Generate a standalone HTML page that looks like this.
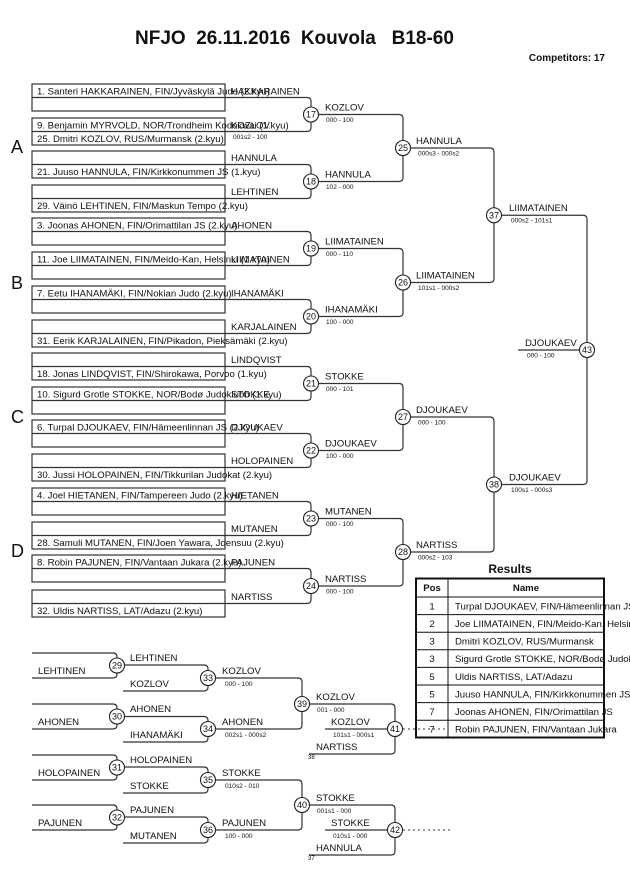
<!DOCTYPE html>
<html><head><meta charset="utf-8"><style>
html,body{margin:0;padding:0;background:#fff}
svg{display:block}
text{font-family:"Liberation Sans",Arial,sans-serif;fill:#111}
.n{font-size:9.6px}
.l{font-size:9.6px}
.s{font-size:6.5px}
.c{font-size:9px}
.t{font-size:6px}
</style></head><body>
<svg width="630" height="891" viewBox="0 0 630 891" xmlns="http://www.w3.org/2000/svg">
<text x="135" y="44" font-size="19" font-weight="bold" xml:space="preserve">NFJO  26.11.2016  Kouvola   B18-60</text>
<text x="605" y="61" font-size="10" font-weight="bold" text-anchor="end">Competitors: 17</text>

<g font-size="18"><text x="11" y="153" font-size="18">A</text><text x="11" y="289" font-size="18">B</text><text x="11" y="423" font-size="18">C</text><text x="11" y="557" font-size="18">D</text></g>

<!-- boxes -->
<g fill="none" stroke="#333" stroke-width="1.2">
<rect x="32" y="84" width="193" height="27"/><line x1="32" y1="97.5" x2="225" y2="97.5"/>
<rect x="32" y="118" width="193" height="27"/><line x1="32" y1="131.5" x2="225" y2="131.5"/>
<rect x="32" y="151" width="193" height="27"/><line x1="32" y1="164.5" x2="225" y2="164.5"/>
<rect x="32" y="185" width="193" height="27"/><line x1="32" y1="198.5" x2="225" y2="198.5"/>
<rect x="32" y="218" width="193" height="27"/><line x1="32" y1="231.5" x2="225" y2="231.5"/>
<rect x="32" y="252" width="193" height="27"/><line x1="32" y1="265.5" x2="225" y2="265.5"/>
<rect x="32" y="286" width="193" height="27"/><line x1="32" y1="299.5" x2="225" y2="299.5"/>
<rect x="32" y="320" width="193" height="27"/><line x1="32" y1="333.5" x2="225" y2="333.5"/>
<rect x="32" y="353" width="193" height="27"/><line x1="32" y1="366.5" x2="225" y2="366.5"/>
<rect x="32" y="387" width="193" height="27"/><line x1="32" y1="400.5" x2="225" y2="400.5"/>
<rect x="32" y="420" width="193" height="27"/><line x1="32" y1="433.5" x2="225" y2="433.5"/>
<rect x="32" y="454" width="193" height="27"/><line x1="32" y1="467.5" x2="225" y2="467.5"/>
<rect x="32" y="488" width="193" height="27"/><line x1="32" y1="501.5" x2="225" y2="501.5"/>
<rect x="32" y="522" width="193" height="27"/><line x1="32" y1="535.5" x2="225" y2="535.5"/>
<rect x="32" y="555" width="193" height="27"/><line x1="32" y1="568.5" x2="225" y2="568.5"/>
<rect x="32" y="590" width="193" height="27"/><line x1="32" y1="603.5" x2="225" y2="603.5"/>

<!-- R1 brackets -->
<path d="M225 97.5H307Q311 97.5 311 101.5V127.5Q311 131.5 307 131.5H225"/>
<path d="M225 164.5H307Q311 164.5 311 168.5V194.5Q311 198.5 307 198.5H225"/>
<path d="M225 231.5H307Q311 231.5 311 235.5V261.5Q311 265.5 307 265.5H225"/>
<path d="M225 299.5H307Q311 299.5 311 303.5V329.5Q311 333.5 307 333.5H225"/>
<path d="M225 366.5H307Q311 366.5 311 370.5V396.5Q311 400.5 307 400.5H225"/>
<path d="M225 433.5H307Q311 433.5 311 437.5V463.5Q311 467.5 307 467.5H225"/>
<path d="M225 501.5H307Q311 501.5 311 505.5V531.5Q311 535.5 307 535.5H225"/>
<path d="M225 568.5H307Q311 568.5 311 572.5V599.5Q311 603.5 307 603.5H225"/>
<!-- R2 -->
<path d="M318 114.5H399Q403 114.5 403 118.5V177.5Q403 181.5 399 181.5H318"/>
<path d="M318 248.5H399Q403 248.5 403 252.5V312.5Q403 316.5 399 316.5H318"/>
<path d="M318 383.5H399Q403 383.5 403 387.5V446.5Q403 450.5 399 450.5H318"/>
<path d="M318 518.5H399Q403 518.5 403 522.5V582Q403 586 399 586H318"/>
<!-- R3 -->
<path d="M410 148H490Q494 148 494 152V278.5Q494 282.5 490 282.5H410"/>
<path d="M410 417H490Q494 417 494 421V548Q494 552 490 552H410"/>
<!-- R4 -->
<path d="M502 215.25H583Q587 215.25 587 219.25V480.5Q587 484.5 583 484.5H502"/>
<line x1="518" y1="350" x2="587" y2="350"/>

<!-- repechage -->
<path d="M32 653H113Q117 653 117 657V674Q117 678 113 678H32"/>
<path d="M123 665H204Q208 665 208 669V687Q208 691 204 691H123"/>
<path d="M32 704H113Q117 704 117 708V725Q117 729 113 729H32"/>
<path d="M123 716.5H204Q208 716.5 208 720.5V738Q208 742 204 742H123"/>
<path d="M215 678H298Q302 678 302 682V725Q302 729 298 729H215"/>
<path d="M309 704H391Q395 704 395 708V750Q395 754 391 754H309"/>
<line x1="325" y1="729" x2="395" y2="729"/>
<path d="M32 755H113Q117 755 117 759V776Q117 780 113 780H32"/>
<path d="M123 767H204Q208 767 208 771V789Q208 793 204 793H123"/>
<path d="M32 805H113Q117 805 117 809V826Q117 830 113 830H32"/>
<path d="M123 817H204Q208 817 208 821V839Q208 843 204 843H123"/>
<path d="M215 780H298Q302 780 302 784V826Q302 830 298 830H215"/>
<path d="M309 805H391Q395 805 395 809V851Q395 855 391 855H309"/>
<line x1="325" y1="830" x2="395" y2="830"/>
</g>
<g stroke="#333" stroke-width="1" stroke-dasharray="2,3" fill="none">
<line x1="403" y1="729" x2="448" y2="729"/>
<line x1="403" y1="830" x2="452" y2="830"/>
</g>

<!-- names -->
<g class="n">
<text class="n" x="37" y="94.5">1. Santeri HAKKARAINEN, FIN/Jyväskylä Judo (2.kyu)</text>
<text class="n" x="37" y="128.5">9. Benjamin MYRVOLD, NOR/Trondheim Kodokwai (1.kyu)</text>
<text class="n" x="37" y="142">25. Dmitri KOZLOV, RUS/Murmansk (2.kyu)</text>
<text class="n" x="37" y="175">21. Juuso HANNULA, FIN/Kirkkonummen JS (1.kyu)</text>
<text class="n" x="37" y="209">29. Väinö LEHTINEN, FIN/Maskun Tempo (2.kyu)</text>
<text class="n" x="37" y="228.5">3. Joonas AHONEN, FIN/Orimattilan JS (2.kyu)</text>
<text class="n" x="37" y="262.5">11. Joe LIIMATAINEN, FIN/Meido-Kan, Helsinki (1.kyu)</text>
<text class="n" x="37" y="296.5">7. Eetu IHANAMÄKI, FIN/Nokian Judo (2.kyu)</text>
<text class="n" x="37" y="344">31. Eerik KARJALAINEN, FIN/Pikadon, Pieksämäki (2.kyu)</text>
<text class="n" x="37" y="377">18. Jonas LINDQVIST, FIN/Shirokawa, Porvoo (1.kyu)</text>
<text class="n" x="37" y="397.5">10. Sigurd Grotle STOKKE, NOR/Bodø Judoklubb (1.kyu)</text>
<text class="n" x="37" y="430.5">6. Turpal DJOUKAEV, FIN/Hämeenlinnan JS (2.kyu)</text>
<text class="n" x="37" y="478">30. Jussi HOLOPAINEN, FIN/Tikkurilan Judokat (2.kyu)</text>
<text class="n" x="37" y="498.5">4. Joel HIETANEN, FIN/Tampereen Judo (2.kyu)</text>
<text class="n" x="37" y="546">28. Samuli MUTANEN, FIN/Joen Yawara, Joensuu (2.kyu)</text>
<text class="n" x="37" y="565.5">8. Robin PAJUNEN, FIN/Vantaan Jukara (2.kyu)</text>
<text class="n" x="37" y="614">32. Uldis NARTISS, LAT/Adazu (2.kyu)</text>
</g>
<!-- r1 labels -->
<g>
<text class="l" x="231" y="94.5">HAKKARAINEN</text>
<text class="l" x="231" y="128.5">KOZLOV</text>
<text class="s" x="233" y="139">001s2 - 100</text>
<text class="l" x="231" y="161">HANNULA</text>
<text class="l" x="231" y="195">LEHTINEN</text>
<text class="l" x="231" y="228.5">AHONEN</text>
<text class="l" x="231" y="262.5">LIIMATAINEN</text>
<text class="l" x="231" y="296.5">IHANAMÄKI</text>
<text class="l" x="231" y="330">KARJALAINEN</text>
<text class="l" x="231" y="363">LINDQVIST</text>
<text class="l" x="231" y="397.5">STOKKE</text>
<text class="l" x="231" y="430.5">DJOUKAEV</text>
<text class="l" x="231" y="464">HOLOPAINEN</text>
<text class="l" x="231" y="498.5">HIETANEN</text>
<text class="l" x="231" y="532">MUTANEN</text>
<text class="l" x="231" y="565.5">PAJUNEN</text>
<text class="l" x="231" y="600">NARTISS</text>
</g>
<!-- r2 labels -->
<g>
<text class="l" x="325" y="110.5">KOZLOV</text><text class="s" x="326" y="122">000 - 100</text>
<text class="l" x="325" y="177.5">HANNULA</text><text class="s" x="326" y="189">102 - 000</text>
<text class="l" x="325" y="244.5">LIIMATAINEN</text><text class="s" x="326" y="256">000 - 110</text>
<text class="l" x="325" y="312.5">IHANAMÄKI</text><text class="s" x="326" y="324">100 - 000</text>
<text class="l" x="325" y="379.5">STOKKE</text><text class="s" x="326" y="391">000 - 101</text>
<text class="l" x="325" y="446.5">DJOUKAEV</text><text class="s" x="326" y="458">100 - 000</text>
<text class="l" x="325" y="514.5">MUTANEN</text><text class="s" x="326" y="526">000 - 100</text>
<text class="l" x="325" y="582">NARTISS</text><text class="s" x="326" y="593.5">000 - 100</text>
<text class="l" x="416" y="144">HANNULA</text><text class="s" x="418" y="155.5">000s3 - 000s2</text>
<text class="l" x="416" y="278.5">LIIMATAINEN</text><text class="s" x="418" y="290">101s1 - 000s2</text>
<text class="l" x="416" y="413">DJOUKAEV</text><text class="s" x="418" y="424.5">000 - 100</text>
<text class="l" x="416" y="548">NARTISS</text><text class="s" x="418" y="559.5">000s2 - 103</text>
<text class="l" x="509" y="211">LIIMATAINEN</text><text class="s" x="511" y="222.5">000s2 - 101s1</text>
<text class="l" x="509" y="480.5">DJOUKAEV</text><text class="s" x="511" y="492">100s1 - 000s3</text>
<text class="l" x="525" y="346">DJOUKAEV</text><text class="s" x="527" y="357.5">000 - 100</text>
</g>
<!-- repechage labels -->
<g>
<text class="l" x="38" y="674">LEHTINEN</text>
<text class="l" x="130" y="661">LEHTINEN</text>
<text class="l" x="130" y="687">KOZLOV</text>
<text class="l" x="222" y="674">KOZLOV</text><text class="s" x="225" y="686">000 - 100</text>
<text class="l" x="38" y="725">AHONEN</text>
<text class="l" x="130" y="712">AHONEN</text>
<text class="l" x="130" y="738">IHANAMÄKI</text>
<text class="l" x="222" y="725">AHONEN</text><text class="s" x="225" y="737">002s1 - 000s2</text>
<text class="l" x="316" y="700">KOZLOV</text><text class="s" x="317" y="712">001 - 000</text>
<text class="l" x="331" y="725">KOZLOV</text><text class="s" x="333" y="737">101s1 - 000s1</text>
<text class="l" x="316" y="750">NARTISS</text><text class="t" x="308" y="759">38</text>
<text class="l" x="38" y="776">HOLOPAINEN</text>
<text class="l" x="130" y="763">HOLOPAINEN</text>
<text class="l" x="130" y="789">STOKKE</text>
<text class="l" x="222" y="776">STOKKE</text><text class="s" x="225" y="788">010s2 - 010</text>
<text class="l" x="38" y="826">PAJUNEN</text>
<text class="l" x="130" y="813">PAJUNEN</text>
<text class="l" x="130" y="839">MUTANEN</text>
<text class="l" x="222" y="826">PAJUNEN</text><text class="s" x="225" y="838">100 - 000</text>
<text class="l" x="316" y="801">STOKKE</text><text class="s" x="317" y="813">001s1 - 000</text>
<text class="l" x="331" y="826">STOKKE</text><text class="s" x="333" y="838">010s1 - 000</text>
<text class="l" x="316" y="851">HANNULA</text><text class="t" x="308" y="860">37</text>
</g>

<!-- circles -->
<g fill="#fff" stroke="#222" stroke-width="1.1">
<circle cx="311" cy="114.5" r="7.5"/><circle cx="311" cy="181.5" r="7.5"/>
<circle cx="311" cy="248.5" r="7.5"/><circle cx="311" cy="316.5" r="7.5"/>
<circle cx="311" cy="383.5" r="7.5"/><circle cx="311" cy="450.5" r="7.5"/>
<circle cx="311" cy="518.5" r="7.5"/><circle cx="311" cy="586" r="7.5"/>
<circle cx="403" cy="148" r="7.5"/><circle cx="403" cy="282.5" r="7.5"/>
<circle cx="403" cy="417" r="7.5"/><circle cx="403" cy="552" r="7.5"/>
<circle cx="494" cy="215.25" r="7.5"/><circle cx="494" cy="484.5" r="7.5"/>
<circle cx="587" cy="350" r="7.5"/>
<circle cx="117" cy="665.5" r="7.5"/><circle cx="208" cy="678" r="7.5"/>
<circle cx="117" cy="716.5" r="7.5"/><circle cx="208" cy="729" r="7.5"/>
<circle cx="302" cy="704" r="7.5"/><circle cx="395" cy="729" r="7.5"/>
<circle cx="117" cy="767.5" r="7.5"/><circle cx="208" cy="780" r="7.5"/>
<circle cx="117" cy="817.5" r="7.5"/><circle cx="208" cy="830" r="7.5"/>
<circle cx="302" cy="805" r="7.5"/><circle cx="395" cy="830" r="7.5"/>
</g>
<g class="c" text-anchor="middle">
<text class="c" x="311" y="117.7">17</text><text class="c" x="311" y="184.7">18</text>
<text class="c" x="311" y="251.7">19</text><text class="c" x="311" y="319.7">20</text>
<text class="c" x="311" y="386.7">21</text><text class="c" x="311" y="453.7">22</text>
<text class="c" x="311" y="521.7">23</text><text class="c" x="311" y="589.2">24</text>
<text class="c" x="403" y="151.2">25</text><text class="c" x="403" y="285.7">26</text>
<text class="c" x="403" y="420.2">27</text><text class="c" x="403" y="555.2">28</text>
<text class="c" x="494" y="218.5">37</text><text class="c" x="494" y="487.7">38</text>
<text class="c" x="587" y="353.2">43</text>
<text class="c" x="117" y="668.7">29</text><text class="c" x="208" y="681.2">33</text>
<text class="c" x="117" y="719.7">30</text><text class="c" x="208" y="732.2">34</text>
<text class="c" x="302" y="707.2">39</text><text class="c" x="395" y="732.2">41</text>
<text class="c" x="117" y="770.7">31</text><text class="c" x="208" y="783.2">35</text>
<text class="c" x="117" y="820.7">32</text><text class="c" x="208" y="833.2">36</text>
<text class="c" x="302" y="808.2">40</text><text class="c" x="395" y="833.2">42</text>
</g>

<!-- results -->
<text x="510" y="573" font-size="12" font-weight="bold" text-anchor="middle">Results</text>
<g stroke="#111" fill="none">
<rect x="416" y="578.5" width="188" height="159" stroke-width="2"/>
<line x1="448" y1="578.5" x2="448" y2="737.5" stroke-width="1"/>
<g stroke-width="1">
<line x1="416" y1="597" x2="604" y2="597"/>
<line x1="416" y1="614.6" x2="604" y2="614.6"/>
<line x1="416" y1="632.2" x2="604" y2="632.2"/>
<line x1="416" y1="649.8" x2="604" y2="649.8"/>
<line x1="416" y1="667.4" x2="604" y2="667.4"/>
<line x1="416" y1="685" x2="604" y2="685"/>
<line x1="416" y1="702.6" x2="604" y2="702.6"/>
<line x1="416" y1="720.2" x2="604" y2="720.2"/>
</g>
</g>
<g font-size="9.6">
<text x="432" y="591" font-weight="bold" text-anchor="middle" font-size="9.6">Pos</text>
<text x="526" y="591" font-weight="bold" text-anchor="middle" font-size="9.6">Name</text>
<g text-anchor="middle">
<text x="432" y="609.5">1</text><text x="432" y="627">2</text><text x="432" y="644.6">3</text><text x="432" y="662.2">3</text>
<text x="432" y="679.8">5</text><text x="432" y="697.4">5</text><text x="432" y="715">7</text><text x="432" y="732.6">7</text>
</g>
<text x="455" y="609.5">Turpal DJOUKAEV, FIN/Hämeenlinnan JS</text>
<text x="455" y="627">Joe LIIMATAINEN, FIN/Meido-Kan, Helsinki</text>
<text x="455" y="644.6">Dmitri KOZLOV, RUS/Murmansk</text>
<text x="455" y="662.2">Sigurd Grotle STOKKE, NOR/Bodø Judoklubb</text>
<text x="455" y="679.8">Uldis NARTISS, LAT/Adazu</text>
<text x="455" y="697.4">Juuso HANNULA, FIN/Kirkkonummen JS</text>
<text x="455" y="715">Joonas AHONEN, FIN/Orimattilan JS</text>
<text x="455" y="732.6">Robin PAJUNEN, FIN/Vantaan Jukara</text>
</g>
</svg>
</body></html>
